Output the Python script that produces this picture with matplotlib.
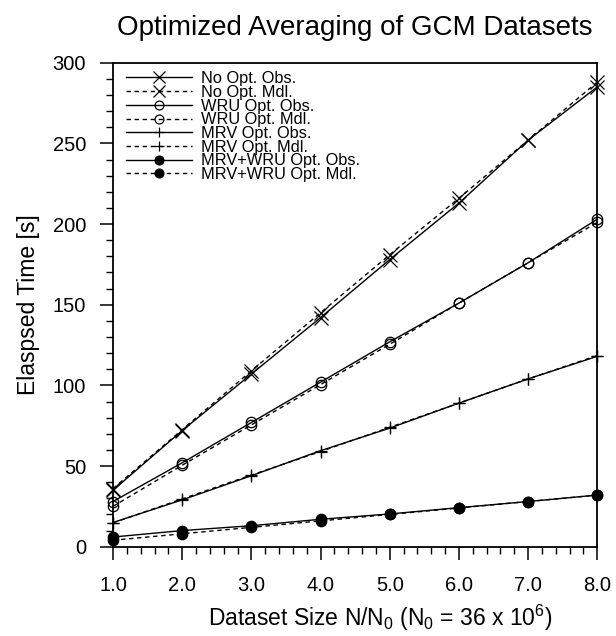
import matplotlib
matplotlib.use("Agg")
import matplotlib.pyplot as plt
from matplotlib.ticker import MultipleLocator, FixedLocator

plt.rcParams['font.family'] = ['Liberation Sans', 'DejaVu Sans']
plt.rcParams['mathtext.default'] = 'regular'

x = [1, 2, 3, 4, 5, 6, 7, 8]
x_labels = ["1.0", "2.0", "3.0", "4.0", "5.0", "6.0", "7.0", "8.0"]

no_opt_obs = [35, 72, 107, 142, 178, 213, 252, 285]
no_opt_mdl = [36, 72.5, 109, 145, 181, 216, 252, 288]
wru_obs = [28, 52, 77, 102, 127, 151, 176, 203]
wru_mdl = [25, 50.5, 75.5, 100.5, 125.5, 151, 176, 201]
mrv_obs = [15, 29, 44, 59.5, 73.5, 89, 104, 118]
mrv_mdl = [14.8, 29.6, 44.4, 59, 74, 89, 104, 118.5]
both_obs = [6, 10, 13, 17, 20.3, 24.2, 28, 32]
both_mdl = [4, 8, 12, 16, 20, 24, 28, 32]

series = [
    ("No Opt. Obs.", no_opt_obs, "-", "x", "none", 9.5),
    ("No Opt. Mdl.", no_opt_mdl, "--", "x", "none", 9.5),
    ("WRU Opt. Obs.", wru_obs, "-", "o", "none", 7.5),
    ("WRU Opt. Mdl.", wru_mdl, "--", "o", "none", 7.5),
    ("MRV Opt. Obs.", mrv_obs, "-", "+", "none", 9),
    ("MRV Opt. Mdl.", mrv_mdl, "--", "+", "none", 9),
    ("MRV+WRU Opt. Obs.", both_obs, "-", "o", "black", 7.5),
    ("MRV+WRU Opt. Mdl.", both_mdl, "--", "o", "black", 7.5),
]

W, H = 616, 636
L, R, T, B = 113, 597.3, 62.7, 546.7
fig = plt.figure(figsize=(W/100, H/100), dpi=100)
ax = fig.add_axes([L/W, 1-B/H, (R-L)/W, (B-T)/H])

for label, vals, ls, mk, mfc, ms in series:
    kw = dict(color="black", lw=1.0, marker=mk, markersize=ms,
              markerfacecolor=mfc, markeredgecolor="black", markeredgewidth=0.9,
              label=label, clip_on=False)
    if ls == "--":
        kw["dashes"] = (3.2, 2.6)
    else:
        kw["linestyle"] = "-"
    ax.plot(x, vals, **kw)

ax.set_xlim(1, 8)
ax.set_ylim(0, 300)
ax.xaxis.set_major_locator(FixedLocator(x))
ax.set_xticklabels(x_labels)
ax.xaxis.set_minor_locator(MultipleLocator(0.2))
ax.yaxis.set_major_locator(MultipleLocator(50))
ax.yaxis.set_minor_locator(MultipleLocator(10))
ax.tick_params(which="major", direction="out", length=9.4, width=1.1, labelsize=14.5, pad=10)
ax.tick_params(axis="x", which="major", pad=12)
ax.tick_params(which="minor", direction="out", length=5, width=1.0)
for s in ax.spines.values():
    s.set_linewidth(1.3)

ax.set_title("Optimized Averaging of GCM Datasets", fontsize=20, pad=20)
ax.set_ylabel("Elaspsed Time [s]", fontsize=16.5, labelpad=9)
ax.set_xlabel("Dataset Size N/N$_0$ (N$_0$ = 36 x 10$^6$)", fontsize=16.5,
              labelpad=5, x=(380 - L)/(R - L))

fs = 11.8
ax.legend(loc="upper left", bbox_to_anchor=(13/(R-L), 1-8.5/(B-T)), frameon=False,
          fontsize=fs, labelspacing=-0.08, handlelength=4.03,
          handletextpad=0.53, borderaxespad=0.0, borderpad=0.0,
          numpoints=1, markerscale=0.85)

fig.savefig("out.png", dpi=100)
